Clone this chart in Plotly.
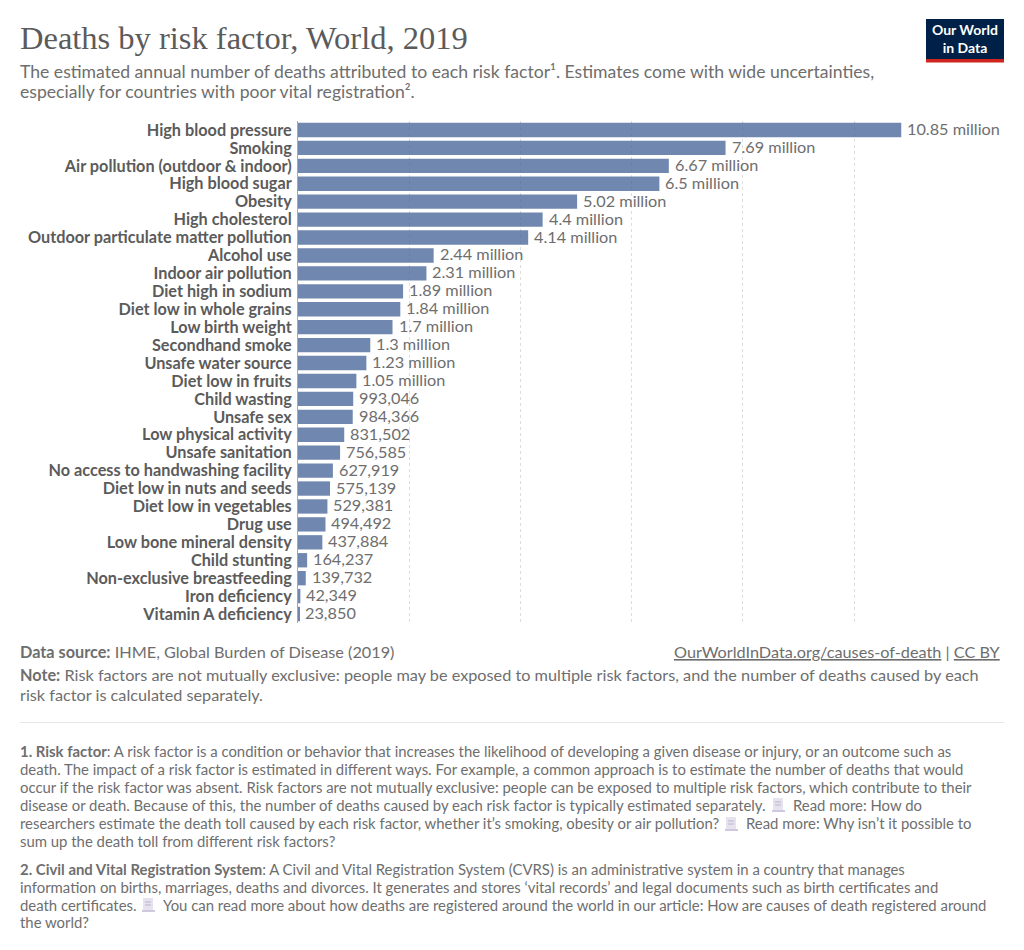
import plotly.graph_objects as go

categories = ["High blood pressure", "Smoking", "Air pollution (outdoor & indoor)", "High blood sugar", "Obesity",
              "High cholesterol", "Outdoor particulate matter pollution", "Alcohol use", "Indoor air pollution",
              "Diet high in sodium", "Diet low in whole grains", "Low birth weight", "Secondhand smoke",
              "Unsafe water source", "Diet low in fruits", "Child wasting", "Unsafe sex", "Low physical activity",
              "Unsafe sanitation", "No access to handwashing facility", "Diet low in nuts and seeds",
              "Diet low in vegetables", "Drug use", "Low bone mineral density", "Child stunting",
              "Non-exclusive breastfeeding", "Iron deficiency", "Vitamin A deficiency"]
deaths = [10850000, 7690000, 6670000, 6500000, 5020000, 4400000, 4140000, 2440000, 2310000, 1890000, 1840000,
          1700000, 1300000, 1230000, 1050000, 993046, 984366, 831502, 756585, 627919, 575139, 529381, 494492,
          437884, 164237, 139732, 42349, 23850]
value_labels = ["10.85 million", "7.69 million", "6.67 million", "6.5 million", "5.02 million", "4.4 million",
                "4.14 million", "2.44 million", "2.31 million", "1.89 million", "1.84 million", "1.7 million",
                "1.3 million", "1.23 million", "1.05 million", "993,046", "984,366", "831,502", "756,585",
                "627,919", "575,139", "529,381", "494,492", "437,884", "164,237", "139,732", "42,349", "23,850"]
grid_ticks = [0, 2000000, 4000000, 6000000, 8000000, 10000000]

# The page has an 8px body margin: the figure is sized to fill the rest of the window.
OFF = 8
W, H = 1024 - OFF, 950 - OFF
GREY = "#5b5b5b"
TXT = "#6e6e6e"
PX_PER_UNIT = 111.2 / 2000000
X0, X1 = 298, 1004
Y0, Y1 = 121, 623


def px(x):
    return (x - OFF) / W


def py(y):
    return 1 - (y - OFF) / H


fig = go.Figure(go.Bar(
    y=categories, x=deaths, orientation="h", width=0.8,
    marker=dict(color="#4c6a9c", opacity=0.8, line=dict(width=0)),
    hoverinfo="skip",
))

anns = []


def t(x, y, s, size=14, color=TXT, family="Lato", anchor="left"):
    anns.append(dict(x=px(x), y=py(y), xref="paper", yref="paper", text=s, showarrow=False, xanchor=anchor,
                     yanchor="middle", align=anchor, borderpad=0, borderwidth=0,
                     font=dict(family=family, size=size, color=color)))


for cat, val, lab in zip(categories, deaths, value_labels):
    anns.append(dict(x=val, y=cat, xref="x", yref="y", text=lab, showarrow=False, xanchor="left", yanchor="middle",
                     xshift=5, yshift=1.5, borderpad=0, font=dict(family="Lato", size=16.25, color=TXT)))

t(20, 38, "Deaths by risk factor, World, 2019", size=32.5, color=GREY, family="Liberation Serif")
t(20, 72, "The estimated annual number of deaths attributed to each risk factor¹. Estimates come with wide uncertainties,", size=17.6)
t(20, 92, "especially for countries with poor vital registration².", size=17.6)
t(20, 651.5, "<b>Data source:</b> IHME, Global Burden of Disease (2019)", size=16.25)
t(1001, 651.5, "<u>OurWorldInData.org/causes-of-death</u> | <u>CC BY</u>", size=16.25, anchor="right")
t(20, 674, "<b>Note:</b> Risk factors are not mutually exclusive: people may be exposed to multiple risk factors, and the number of deaths caused by each", size=16.25)
t(20, 694, "risk factor is calculated separately.", size=16.25)

foot = [
    (751, 20, "<b>1. Risk factor</b>: A risk factor is a condition or behavior that increases the likelihood of developing a given disease or injury, or an outcome such as"),
    (769, 20, "death. The impact of a risk factor is estimated in different ways. For example, a common approach is to estimate the number of deaths that would"),
    (787, 20, "occur if the risk factor was absent. Risk factors are not mutually exclusive: people can be exposed to multiple risk factors, which contribute to their"),
    (805, 20, "disease or death. Because of this, the number of deaths caused by each risk factor is typically estimated separately."),
    (805, 793, "Read more: How do"),
    (823, 20, "researchers estimate the death toll caused by each risk factor, whether it’s smoking, obesity or air pollution?"),
    (823, 746, "Read more: Why isn’t it possible to"),
    (841, 20, "sum up the death toll from different risk factors?"),
    (869, 20, "<b>2. Civil and Vital Registration System</b>: A Civil and Vital Registration System (CVRS) is an administrative system in a country that manages"),
    (886.5, 20, "information on births, marriages, deaths and divorces. It generates and stores ‘vital records’ and legal documents such as birth certificates and"),
    (904.5, 20, "death certificates."),
    (904.5, 163, "You can read more about how deaths are registered around the world in our article: How are causes of death registered around"),
    (922, 20, "the world?"),
]
for y, x, s in foot:
    t(x, y, s, size=14.9)

t(965, 39, "<b>Our World<br>in Data</b>", size=14, color="#ffffff", anchor="center")

shapes = [
    dict(type="rect", xref="paper", yref="paper", x0=px(926), x1=px(1004), y0=py(19), y1=py(59),
         fillcolor="#002147", line_width=0, layer="below"),
    dict(type="rect", xref="paper", yref="paper", x0=px(926), x1=px(1004), y0=py(59), y1=py(62.5),
         fillcolor="#ce261e", line_width=0, layer="below"),
    dict(type="line", xref="paper", yref="paper", x0=px(20), x1=px(1004), y0=py(722.5), y1=py(722.5),
         line=dict(color="#e7e7e7", width=1)),
]
for ix, iy in [(772, 805), (725, 824), (142, 905)]:
    shapes.append(dict(type="rect", xref="paper", yref="paper", x0=px(ix + 1), x1=px(ix + 11), y0=py(iy - 7),
                       y1=py(iy + 5), fillcolor="#e6e2ee", line_width=0))
    shapes.append(dict(type="rect", xref="paper", yref="paper", x0=px(ix), x1=px(ix + 13), y0=py(iy + 5),
                       y1=py(iy + 7), fillcolor="#cfc8de", line_width=0))
    for dy in (-3, 0):
        shapes.append(dict(type="line", xref="paper", yref="paper", x0=px(ix + 3), x1=px(ix + 9), y0=py(iy + dy),
                           y1=py(iy + dy), line=dict(color="#bdb5d0", width=1)))

fig.update_layout(
    width=W, height=H, autosize=False, margin=dict(l=0, r=0, t=0, b=0), showlegend=False,
    paper_bgcolor="white", plot_bgcolor="white", annotations=anns, shapes=shapes,
    xaxis=dict(domain=[px(X0), px(X1)], range=[0, (X1 - X0) / PX_PER_UNIT], tickvals=grid_ticks,
               showticklabels=False, showgrid=True, gridcolor="#dddddd", griddash="3px,3px", gridwidth=1,
               zeroline=False, showline=False, ticks="", fixedrange=True),
    yaxis=dict(domain=[py(Y1), py(Y0)], range=[len(categories) - 0.5, -0.5], type="category", categoryorder="array",
               categoryarray=categories, tickmode="array", tickvals=categories, ticktext=categories,
               showgrid=False, zeroline=False, showline=True, linecolor="#a8a8a8",
               linewidth=1, ticks="outside", ticklen=2, tickcolor="rgba(0,0,0,0)", fixedrange=True,
               tickfont=dict(family="Lato", size=16.25, color=GREY, weight=700)),
)
fig.write_html("out.html")
